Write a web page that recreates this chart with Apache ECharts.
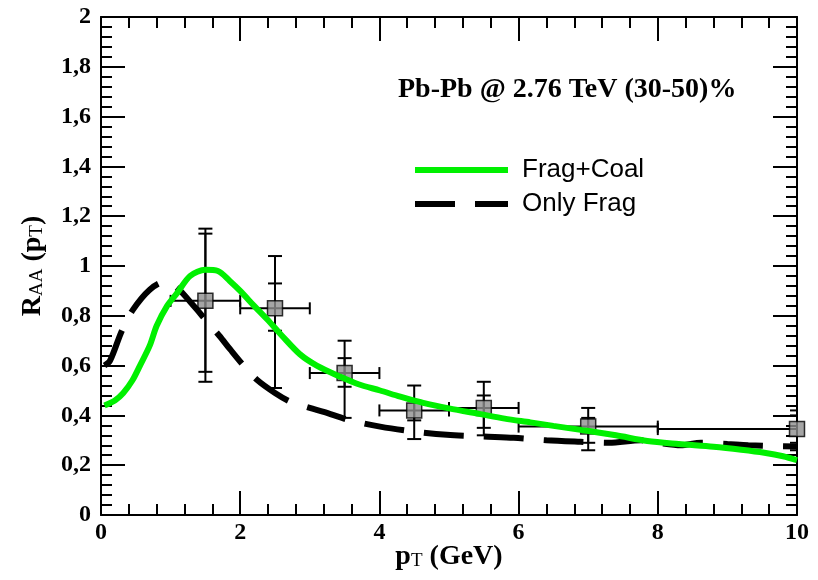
<!DOCTYPE html>
<html>
<head>
<meta charset="utf-8">
<script src="https://cdn.jsdelivr.net/npm/echarts@6/dist/echarts.min.js"></script>
<style>
  html, body { margin: 0; padding: 0; background: #fff; }
  #chart { width: 818px; height: 580px; }
</style>
</head>
<body>
<div id="chart"></div>
<script>
// Frag+Coal model curve (pT, RAA)
const fragCoal = [
  [0.05, 0.44], [0.2, 0.46], [0.32, 0.49], [0.45, 0.54], [0.56, 0.6], [0.7, 0.68],
  [0.8, 0.76], [0.95, 0.84], [1.09, 0.89], [1.28, 0.96], [1.5, 0.985], [1.68, 0.98],
  [1.85, 0.94], [2.0, 0.9], [2.2, 0.84], [2.39, 0.785], [2.6, 0.72], [2.86, 0.645],
  [3.1, 0.6], [3.44, 0.555], [3.7, 0.525], [4.01, 0.5], [4.3, 0.475], [4.63, 0.45],
  [5.0, 0.428], [5.45, 0.405], [5.8, 0.387], [6.17, 0.372], [6.5, 0.358], [6.89, 0.342],
  [7.4, 0.32], [7.85, 0.297], [8.3, 0.285], [8.8, 0.274], [9.2, 0.262], [9.53, 0.25],
  [9.8, 0.236], [10, 0.22]
]

// Only Frag model curve
const onlyFrag = [
  [0.05, 0.6], [0.13, 0.62], [0.3, 0.74], [0.46, 0.825], [0.7, 0.905], [0.9, 0.935],
  [1.0, 0.93], [1.14, 0.9], [1.3, 0.85], [1.5, 0.785], [1.7, 0.72], [1.86, 0.664],
  [2.05, 0.6], [2.24, 0.543], [2.5, 0.49], [2.72, 0.455], [3.0, 0.43], [3.2, 0.414],
  [3.58, 0.38], [4.01, 0.355], [4.5, 0.335], [4.97, 0.322], [5.5, 0.315], [5.93, 0.31],
  [6.4, 0.3], [6.89, 0.294], [7.3, 0.29], [7.76, 0.3], [8.0, 0.29], [8.33, 0.28],
  [8.62, 0.29], [9.0, 0.285], [9.3, 0.28], [10, 0.275]
]

// measured points
const ptVals   = [1.5, 2.5, 3.5, 4.5, 5.5, 7, 10]
const raaVals  = [0.86, 0.83, 0.57, 0.42, 0.43, 0.355, 0.345]
const ptLow    = [1, 2, 3, 4, 5, 6, 8]
const ptHigh   = [2, 3, 4, 5, 6, 8, 12]
const statLow  = [0.575, 0.74, 0.515, 0.38, 0.35, 0.29, 0.29]
const statHigh = [1.13, 0.93, 0.63, 0.46, 0.48, 0.39, 0.40]
const sysLow   = [0.535, 0.51, 0.39, 0.305, 0.32, 0.26, 0.26]
const sysHigh  = [1.15, 1.04, 0.70, 0.52, 0.535, 0.43, 0.42]

const serif = 'Liberation Serif'
const sans = 'Liberation Sans'

const points = ptVals.map((x, i) => [x, raaVals[i], ptLow[i], ptHigh[i],
  statLow[i], statHigh[i], sysLow[i], sysHigh[i]])

const chart = echarts.init(document.getElementById('chart'))

function renderErrors(params, api) {
  const x = api.value(0), y = api.value(1)
  const c = api.coord([x, y])
  const l = api.coord([api.value(2), y])
  const r = api.coord([api.value(3), y])
  const st = { stroke: '#000', lineWidth: 2 }
  const kids = []
  const line = (x1, y1, x2, y2) => kids.push({ type: 'line', shape: { x1, y1, x2, y2 }, style: st })
  // horizontal bar
  line(l[0], c[1], r[0], c[1])
  line(l[0], c[1] - 6, l[0], c[1] + 6)
  line(r[0], c[1] - 6, r[0], c[1] + 6)
  // vertical bars (stat + sys)
  ;[[4, 5], [6, 7]].forEach(([a, b]) => {
    const lo = api.coord([x, api.value(a)])
    const hi = api.coord([x, api.value(b)])
    line(c[0], lo[1], c[0], hi[1])
    line(c[0] - 7, lo[1], c[0] + 7, lo[1])
    line(c[0] - 7, hi[1], c[0] + 7, hi[1])
  })
  return { type: 'group', children: kids }
}

const tickLabel = { fontFamily: serif, fontWeight: 'bold', fontSize: 24, color: '#000' }
const nameRich = {
  m: { fontFamily: serif, fontWeight: 'bold', fontSize: 28, color: '#000', lineHeight: 28, verticalAlign: 'top' },
  s: { fontFamily: serif, fontSize: 19, color: '#000', lineHeight: 19, padding: [15, 0, 0, 0], verticalAlign: 'bottom' }
}

function frameAxis(extra) {
  return Object.assign({
    type: 'value',
    axisLine: { show: true, onZero: false, lineStyle: { color: '#000', width: 2 } },
    axisTick: { show: true, inside: true, length: 24, lineStyle: { color: '#000', width: 2 } },
    minorTick: { show: true, splitNumber: 5, length: 11, lineStyle: { color: '#000', width: 2 } },
    splitLine: { show: false },
    minorSplitLine: { show: false }
  }, extra)
}

const gridBox = { left: 101, right: 21, top: 17, bottom: 65, containLabel: false, outerBoundsMode: 'none' }

const option = {
  animation: false,
  title: {
    text: 'Pb-Pb @ 2.76 TeV (30-50)%',
    left: 393,
    top: 71,
    textStyle: { fontFamily: serif, fontWeight: 'bold', fontSize: 28, color: '#000' }
  },
  legend: {
    left: 412,
    top: 157,
    padding: 0,
    orient: 'vertical',
    itemWidth: 93,
    itemHeight: 22,
    itemGap: 8,
    itemStyle: { opacity: 0 },
    data: [
      { name: 'Frag+Coal', lineStyle: { color: '#00f000', width: 6 } },
      { name: 'Only Frag', lineStyle: { color: '#000', width: 6, type: [40, 20] } }
    ],
    textStyle: { fontFamily: sans, fontSize: 26, color: '#000', padding: [0, 0, 0, 9] }
  },
  // grid 0 holds the data, grid 1 (same box) only carries the top/right frame axes
  grid: [Object.assign({}, gridBox), Object.assign({}, gridBox)],
  xAxis: [
    frameAxis({
      gridIndex: 0, min: 0, max: 10, interval: 2, position: 'bottom',
      name: '{m|p}{s|T}{m| (GeV)}',
      nameLocation: 'middle', nameGap: 28, nameMoveOverlap: false,
      nameTextStyle: { rich: nameRich },
      axisLabel: Object.assign({ margin: 6 }, tickLabel)
    }),
    frameAxis({
      gridIndex: 1, min: 0, max: 10, interval: 2, position: 'top',
      axisLabel: { show: false }
    })
  ],
  yAxis: [
    frameAxis({
      gridIndex: 0, min: 0, max: 2, interval: 0.2, position: 'left',
      name: '{m|R}{s|AA}{m| (p}{s|T}{m|)}',
      nameLocation: 'middle', nameGap: 54, nameRotate: 90, nameMoveOverlap: false,
      nameTextStyle: { rich: nameRich },
      axisLabel: Object.assign({
        margin: 10,
        formatter: v => String(Math.round(v * 10) / 10).replace('.', ',')
      }, tickLabel)
    }),
    frameAxis({
      gridIndex: 1, min: 0, max: 2, interval: 0.2, position: 'right',
      axisLabel: { show: false }
    })
  ],
  series: [
    {
      type: 'custom',
      name: 'errors',
      renderItem: renderErrors,
      data: points,
      clip: true,
      z: 1,
      silent: true
    },
    {
      type: 'scatter',
      name: 'data',
      data: points.map(p => [p[0], p[1]]),
      symbol: 'rect',
      symbolSize: 15,
      itemStyle: { color: '#8f8f8f', borderColor: '#000', borderWidth: 1.5 },
      clip: false,
      z: 2
    },
    {
      type: 'line',
      name: 'Only Frag',
      data: onlyFrag,
      symbol: 'none',
      smooth: 0.3,
      lineStyle: { color: '#000', width: 6, type: [40, 20] },
      itemStyle: { color: '#000' },
      z: 3
    },
    {
      type: 'line',
      name: 'Frag+Coal',
      data: fragCoal,
      symbol: 'none',
      smooth: 0.3,
      lineStyle: { color: '#00f000', width: 6 },
      itemStyle: { color: '#00f000' },
      z: 4
    }
  ]
}

chart.setOption(option)
</script>
</body>
</html>
